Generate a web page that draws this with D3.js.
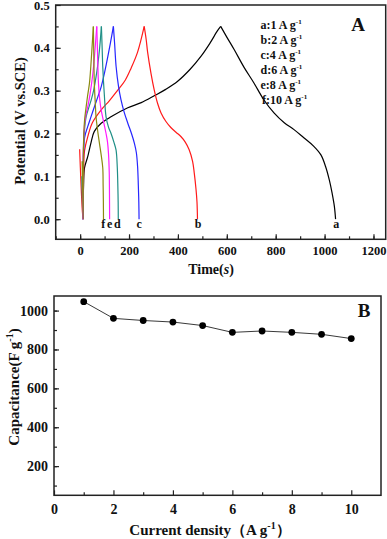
<!DOCTYPE html>
<html>
<head>
<meta charset="utf-8">
<script src="https://cdn.jsdelivr.net/npm/d3@7"></script>
<style>
  body { margin: 0; background: #fff; }
  svg text { font-family: "Liberation Serif", "Times New Roman", serif; font-weight: bold; fill: #111; }
</style>
</head>
<body>
<div id="chart"></div>
<script>
// panel A: galvanostatic charge/discharge curves, [time (s), potential (V)]
var curveA = [[12,0],[14,0.08],[18,0.12],[31,0.146],[45,0.18],[58,0.205],[86,0.224],[126,0.239],[195,0.26],[250,0.272],[303,0.288],[350,0.303],[399,0.322],[450,0.35],[494,0.38],[530,0.41],[562,0.44],[575,0.45],[600,0.425],[630,0.396],[670,0.355],[711,0.318],[750,0.28],[793,0.248],[835,0.225],[875,0.209],[915,0.19],[956,0.17],[985,0.15],[1004,0.123],[1020,0.09],[1031,0.06],[1040,0.03],[1045,0]];
var curveB = [[-2,0.163],[3,0.09],[9,0.02],[12,0],[14,0.1],[18,0.16],[31,0.192],[50,0.225],[86,0.255],[120,0.277],[154,0.301],[185,0.325],[208,0.352],[235,0.39],[262,0.45],[270,0.42],[276,0.39],[290,0.34],[303,0.302],[317,0.27],[331,0.248],[351,0.228],[371,0.214],[392,0.203],[412,0.193],[430,0.18],[446,0.162],[460,0.135],[467,0.107],[474,0.07],[478,0.04],[480,0]];
var curveC = [[11,0],[13,0.12],[18,0.19],[31,0.216],[45,0.24],[58,0.262],[72,0.285],[86,0.309],[99,0.34],[113,0.379],[125,0.415],[136,0.45],[141,0.41],[147,0.357],[157,0.31],[167,0.279],[180,0.25],[195,0.224],[210,0.2],[222,0.177],[230,0.155],[235,0.123],[238,0.08],[240,0.04],[241,0]];
var curveD = [[7,0.1],[11,0],[13,0.15],[18,0.21],[24.5,0.239],[35,0.26],[45,0.278],[55,0.3],[65,0.332],[72,0.36],[79,0.395],[87,0.45],[90,0.4],[92.5,0.356],[99,0.29],[106,0.239],[116,0.215],[126.5,0.2],[138,0.18],[147,0.161],[152,0.12],[154,0.083],[155.5,0.04],[156,0]];
var curveE = [[11,0],[13,0.16],[18,0.22],[24,0.245],[31,0.262],[40,0.29],[52,0.34],[60,0.39],[68,0.45],[71,0.39],[75,0.317],[80,0.28],[86,0.255],[95,0.23],[106,0.2],[112,0.18],[116,0.153],[119,0.11],[120,0.06],[120.5,0]];
var curveF = [[8,0.135],[11,0.05],[12,0],[14,0.18],[18,0.23],[24.5,0.262],[31,0.29],[38,0.317],[44,0.36],[48,0.395],[54,0.45],[56,0.38],[58,0.317],[62,0.27],[65,0.239],[72,0.205],[79,0.177],[86,0.15],[92.5,0.12],[94,0.08],[95,0.04],[95.5,0]];

var curveNames = ["a", "b", "c", "d", "e", "f"];
var currents = [1, 2, 4, 6, 8, 10];
var curveColors = ["#000000", "#ff1a1a", "#2626ff", "#1f8f86", "#ff1aff", "#8a8a10"];

// panel B: specific capacitance vs current density
var density = [1, 2, 3, 4, 5, 6, 7, 8, 9, 10];
var capacitance = [1046, 960, 949, 941, 923, 888, 895, 888, 878, 856];

var W = 387, H = 539;
var serif = '"Liberation Serif", "Times New Roman", serif';
var svg = d3.select("#chart").append("svg")
    .attr("width", W)
    .attr("height", H);

// ---------- panel A ----------
var boxA = {left: 55.7, right: 385.7, top: 5, bottom: 239.3};
var xA = d3.scaleLinear().domain([-100, 1250]).range([boxA.left, boxA.right]);
var yA = d3.scaleLinear().domain([-0.047, 0.5]).range([boxA.bottom, boxA.top]);

var gA = svg.append("g");

var lineA = d3.line()
    .x(d => xA(d[0]))
    .y(d => yA(d[1]))
    .curve(d3.curveCatmullRom.alpha(0.5));

[curveA, curveB, curveC, curveD, curveE, curveF].forEach(function(c, i) {
    // split at the peak so the turn-over stays sharp
    var peak = d3.maxIndex(c, d => d[1]);
    [c.slice(0, peak + 1), c.slice(peak)].forEach(function(seg) {
        gA.append("path")
            .attr("d", lineA(seg))
            .attr("fill", "none")
            .attr("stroke", curveColors[i])
            .attr("stroke-width", 1.2);
    });
});

// end labels under each curve
var endLabels = [1048, 483, 241, 152, 121, 95];
gA.selectAll(".endlab")
    .data(curveNames)
    .join("text")
    .attr("class", "endlab")
    .attr("x", (d, i) => xA(endLabels[i]))
    .attr("y", yA(0) + 9)
    .attr("text-anchor", "middle")
    .style("font-size", "12px")
    .text(d => d);

gA.append("g")
    .attr("transform", "translate(0," + boxA.bottom + ")")
    .call(d3.axisBottom(xA).tickValues(d3.range(-100, 1201, 100)).tickSize(-3).tickFormat(""))
    .call(g => g.select(".domain").remove());
gA.append("g")
    .attr("transform", "translate(0," + boxA.bottom + ")")
    .call(d3.axisBottom(xA).tickValues(d3.range(0, 1201, 200)).tickSize(-5).tickPadding(7).tickFormat(d3.format("d")))
    .call(g => g.select(".domain").remove());
gA.append("g")
    .attr("transform", "translate(" + boxA.left + ",0)")
    .call(d3.axisLeft(yA).tickValues(d3.range(0, 0.5, 0.05)).tickSize(-3).tickFormat(""))
    .call(g => g.select(".domain").remove());
gA.append("g")
    .attr("transform", "translate(" + boxA.left + ",0)")
    .call(d3.axisLeft(yA).tickValues([0, 0.1, 0.2, 0.3, 0.4, 0.5]).tickSize(-5).tickPadding(6).tickFormat(d3.format(".1f")))
    .call(g => g.select(".domain").remove());

gA.append("rect")
    .attr("x", boxA.left).attr("y", boxA.top)
    .attr("width", boxA.right - boxA.left).attr("height", boxA.bottom - boxA.top)
    .attr("fill", "none").attr("stroke", "#222").attr("stroke-width", 1.5);

// legend
var leg = gA.append("g");
curveNames.forEach(function(n, i) {
    var t = leg.append("text")
        .attr("x", i == 5 ? 262 : 260.5)
        .attr("y", 28.5 + i * 15)
        .style("font-size", "12px");
    t.append("tspan").text(n + ":" + currents[i] + " A g");
    t.append("tspan").attr("dy", -5).style("font-size", "7px").text("-1");
});

gA.append("text")
    .attr("x", 358).attr("y", 31)
    .attr("text-anchor", "middle")
    .style("font-size", "19px")
    .text("A");

var xlabA = gA.append("text")
    .attr("x", 211).attr("y", 274)
    .attr("text-anchor", "middle")
    .style("font-size", "14px");
xlabA.append("tspan").text("Time(");
xlabA.append("tspan").style("font-style", "italic").text("s");
xlabA.append("tspan").text(")");

gA.append("text")
    .attr("transform", "translate(25,121) rotate(-90)")
    .attr("text-anchor", "middle")
    .style("font-size", "14.5px")
    .text("Potential (V vs.SCE)");

// ---------- panel B ----------
var boxB = {left: 54, right: 381, top: 296, bottom: 495.3};
var xB = d3.scaleLinear().domain([0, 11]).range([boxB.left, boxB.right]);
var yB = d3.scaleLinear().domain([50, 1075]).range([boxB.bottom, boxB.top]);

var gB = svg.append("g");

gB.append("g")
    .attr("transform", "translate(0," + boxB.bottom + ")")
    .call(d3.axisBottom(xB).tickValues(d3.range(1, 11, 2)).tickSize(-3).tickFormat(""))
    .call(g => g.select(".domain").remove());
gB.append("g")
    .attr("transform", "translate(0," + boxB.bottom + ")")
    .call(d3.axisBottom(xB).tickValues(d3.range(0, 11, 2)).tickSize(-5).tickPadding(8.5))
    .call(g => g.select(".domain").remove());
gB.append("g")
    .attr("transform", "translate(" + boxB.left + ",0)")
    .call(d3.axisLeft(yB).tickValues(d3.range(100, 1001, 100)).tickSize(-3).tickFormat(""))
    .call(g => g.select(".domain").remove());
gB.append("g")
    .attr("transform", "translate(" + boxB.left + ",0)")
    .call(d3.axisLeft(yB).tickValues(d3.range(200, 1001, 200)).tickSize(-5).tickPadding(6).tickFormat(d3.format("d")))
    .call(g => g.select(".domain").remove());

gB.append("rect")
    .attr("x", boxB.left).attr("y", boxB.top)
    .attr("width", boxB.right - boxB.left).attr("height", boxB.bottom - boxB.top)
    .attr("fill", "none").attr("stroke", "#222").attr("stroke-width", 1.5);

var capData = density.map((d, i) => [d, capacitance[i]]);

gB.append("path")
    .attr("d", d3.line().x(d => xB(d[0])).y(d => yB(d[1]))(capData))
    .attr("fill", "none")
    .attr("stroke", "#222")
    .attr("stroke-width", 0.9);

gB.selectAll("circle")
    .data(capData)
    .join("circle")
    .attr("cx", d => xB(d[0]))
    .attr("cy", d => yB(d[1]))
    .attr("r", 3.4)
    .attr("fill", "#000");

gB.append("text")
    .attr("x", 364).attr("y", 317)
    .attr("text-anchor", "middle")
    .style("font-size", "19px")
    .text("B");

var xlabB = gB.append("text")
    .attr("x", 210).attr("y", 535)
    .attr("text-anchor", "middle")
    .style("font-size", "15px");
xlabB.append("tspan").text("Current density（A g");
xlabB.append("tspan").attr("dy", -6).style("font-size", "10px").text("-1");
xlabB.append("tspan").attr("dy", 6).text("）");

var ylabB = gB.append("text")
    .attr("transform", "translate(19,387) rotate(-90)")
    .attr("text-anchor", "middle")
    .style("font-size", "15px");
ylabB.append("tspan").text("Capacitance(F g");
ylabB.append("tspan").attr("dy", -6).style("font-size", "10px").text("-1");
ylabB.append("tspan").attr("dy", 6).text(")");

// tick label styling
svg.selectAll(".tick text")
    .style("font-family", serif)
    .style("font-weight", "bold")
    .style("font-size", "12.5px")
    .style("fill", "#111");
gB.selectAll(".tick text").style("font-size", "14px");
svg.selectAll(".tick line").attr("stroke", "#222").attr("stroke-width", 1.2);
</script>
</body>
</html>
